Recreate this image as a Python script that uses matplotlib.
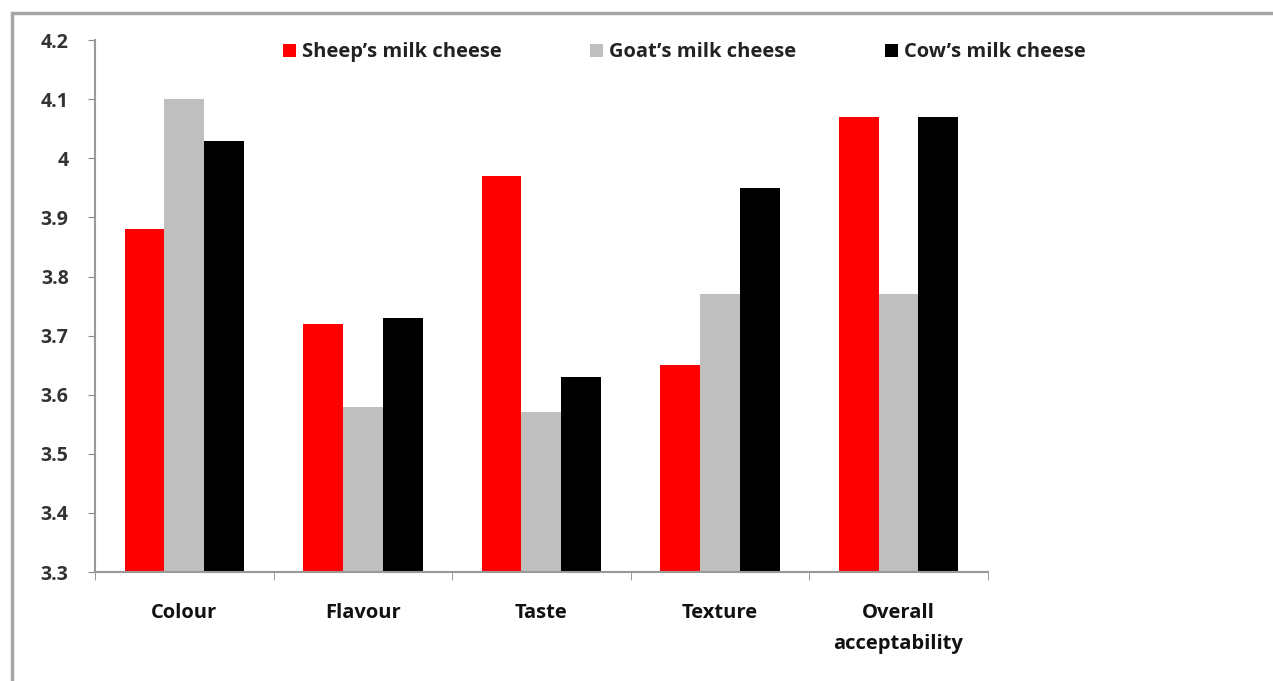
import matplotlib.pyplot as plt
import numpy as np
from matplotlib.patches import Rectangle

# Dane
categories = ["Colour", "Flavour", "Taste", "Texture", "Overall\nacceptability"]
sheep = [3.88, 3.72, 3.97, 3.65, 4.07]
goat = [4.10, 3.58, 3.57, 3.77, 3.77]
cow = [4.03, 3.73, 3.63, 3.95, 4.07]
series_names = ["Sheep\u2019s milk cheese", "Goat\u2019s milk cheese", "Cow\u2019s milk cheese"]
colors = ["#ff0000", "#bfbfbf", "#000000"]
yticks = [3.3, 3.4, 3.5, 3.6, 3.7, 3.8, 3.9, 4.0, 4.1, 4.2]
ytick_labels = ["3.3", "3.4", "3.5", "3.6", "3.7", "3.8", "3.9", "4", "4.1", "4.2"]

plt.rcParams['font.family'] = ['Open Sans', 'DejaVu Sans']

fig = plt.figure(figsize=(12.73, 6.81), dpi=100)
ax = fig.add_axes([0.0746, 0.160, 0.7014, 0.781])

x = np.arange(len(categories))
w = 0.223
for i, (vals, name, c) in enumerate(zip([sheep, goat, cow], series_names, colors)):
    ax.bar(x + (i - 1) * w, np.array(vals) - 3.3, bottom=3.3, width=w,
           color=c, label=name, zorder=2)

ax.set_xlim(-0.5, len(categories) - 0.5)
ax.set_ylim(3.3, 4.2)
ax.set_yticks(yticks)
ax.set_yticklabels(ytick_labels, fontsize=14, fontweight='bold', color='#333333')
ax.set_xticks(x)
ax.set_xticklabels(categories, fontsize=14.5, fontweight='bold', color='#111111',
                   linespacing=1.75, va='top')
ax.tick_params(axis='x', length=0, pad=22)
ax.tick_params(axis='y', length=5, color='#888888', pad=14)
ax.set_xticks(np.arange(len(categories) + 1) - 0.5, minor=True)
ax.tick_params(axis='x', which='minor', length=6, color='#888888', direction='out')

for s in ['top', 'right']:
    ax.spines[s].set_visible(False)
for s in ['left', 'bottom']:
    ax.spines[s].set_color('#999999')
    ax.spines[s].set_linewidth(1.5)

leg = ax.legend(loc='upper center', bbox_to_anchor=(0.66, 1.03), ncol=3, frameon=False,
                handlelength=0.65, handleheight=0.65, handletextpad=0.3, columnspacing=4.4,
                prop={'size': 14.5, 'weight': 'bold'})
for t in leg.get_texts():
    t.set_color('#222222')

# ramka
fig.patches.append(Rectangle((12 / 1273, -0.1), 1.2, 1 - 13 / 681 + 0.1,
                             transform=fig.transFigure, fill=False,
                             edgecolor='#a6a6a6', linewidth=2.5, zorder=0))

fig.savefig("out.png", dpi=100)
